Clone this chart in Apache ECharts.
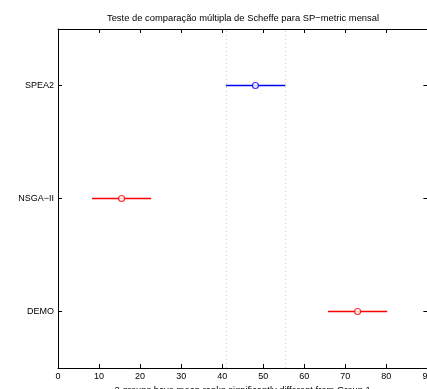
<!DOCTYPE html>
<html>
<head>
<meta charset="utf-8">
<script src="https://cdn.jsdelivr.net/npm/echarts@6/dist/echarts.min.js"></script>
<style>
  html, body { margin: 0; padding: 0; background: #fff; overflow: hidden; }
  #chart { width: 427px; height: 389px; }
</style>
</head>
<body>
<div id="chart"></div>
<script>
// Groups listed bottom-to-top
const groups = ['DEMO', 'NSGA\u2212II', 'SPEA2'];
// Estimated mean ranks and Scheffe comparison intervals
const meanRanks = [73.0, 15.5, 48.1];
const lowerBounds = [65.8, 8.3, 40.9];
const upperBounds = [80.2, 22.7, 55.4];
// Index of the reference group (drawn in blue)
const selectedGroup = 2;
const xTicks = [0, 10, 20, 30, 40, 50, 60, 70, 80, 90];
const xMax = 90;

const FONT = 'Liberation Sans, Arial, Helvetica, sans-serif';
const BLUE = '#0000ff';
const RED = '#ff0000';
const TICK_LEN = 4;
const groupColors = groups.map((g, i) => (i === selectedGroup ? BLUE : RED));

const chart = echarts.init(document.getElementById('chart'), null, { renderer: 'canvas' });

const intervalData = groups.map((g, i) => [lowerBounds[i], i, upperBounds[i]]);
const meanData = groups.map((g, i) => ({
  value: [meanRanks[i], i],
  itemStyle: { borderColor: groupColors[i], color: '#fff' }
}));

const makeLine = () => ({ show: true, lineStyle: { color: '#000', width: 1 } });
const makeTicks = () => ({ show: true, inside: true, length: TICK_LEN, lineStyle: { color: '#000', width: 1 } });

chart.setOption({
  animation: false,
  title: {
    text: 'Teste de compara\u00e7\u00e3o m\u00faltipla de Scheffe para SP\u2212metric mensal',
    left: 238, top: 9, textAlign: 'center',
    textStyle: { fontFamily: FONT, fontSize: 9.4, fontWeight: 'normal', color: '#000' }
  },
  grid: { left: 58, top: 29, width: 369.4, height: 339, containLabel: false, outerBoundsMode: 'none' },
  xAxis: [
    {
      type: 'value', min: 0, max: xMax, interval: 10, position: 'bottom',
      axisLine: makeLine(), axisTick: makeTicks(),
      axisLabel: { fontFamily: FONT, fontSize: 9, color: '#000', margin: 4,
        formatter: v => (xTicks.includes(v) ? String(v) : '') },
      splitLine: { show: false },
      name: '2 groups have mean ranks significantly different from Group 1',
      nameLocation: 'middle', nameGap: 16,
      nameTextStyle: { fontFamily: FONT, fontSize: 9.4, color: '#000' }
    },
    {
      type: 'value', min: 0, max: xMax, interval: 10, position: 'top',
      axisLine: makeLine(), axisTick: makeTicks(),
      axisLabel: { show: false }, splitLine: { show: false }
    }
  ],
  yAxis: [
    {
      type: 'category', data: groups, position: 'left', boundaryGap: true,
      axisLine: makeLine(), axisTick: Object.assign(makeTicks(), { alignWithLabel: true }),
      axisLabel: { fontFamily: FONT, fontSize: 9, color: '#000', margin: 4 },
      splitLine: { show: false }
    }
  ],
  series: [
    {
      // Comparison intervals
      type: 'custom',
      xAxisIndex: 0, yAxisIndex: 0,
      data: intervalData,
      renderItem: (params, api) => {
        const i = params.dataIndex;
        const a = api.coord([lowerBounds[i], i]);
        const b = api.coord([upperBounds[i], i]);
        // snap to the pixel grid so the stroke stays crisp
        const y = Math.floor(a[1]) + 0.5;
        return {
          type: 'line',
          shape: { x1: a[0], y1: y, x2: b[0], y2: y },
          style: { stroke: groupColors[i], lineWidth: 1.4 }
        };
      },
      markLine: {
        silent: true, symbol: 'none', label: { show: false },
        lineStyle: { type: [1, 3], color: '#c8c8c8', width: 1 },
        data: [{ xAxis: lowerBounds[selectedGroup] }, { xAxis: upperBounds[selectedGroup] }]
      },
      z: 2
    },
    {
      // Tick marks on the right-hand frame edge
      type: 'custom',
      xAxisIndex: 0, yAxisIndex: 0,
      silent: true,
      data: groups.map((g, i) => [xMax, i]),
      renderItem: (params, api) => {
        const p = api.coord([xMax, params.dataIndex]);
        const y = Math.floor(p[1]) + 0.5;
        return {
          type: 'line',
          shape: { x1: p[0] - TICK_LEN, y1: y, x2: p[0], y2: y },
          style: { stroke: '#000', lineWidth: 1 }
        };
      },
      z: 1
    },
    {
      // Mean ranks
      type: 'scatter',
      xAxisIndex: 0, yAxisIndex: 0,
      symbol: 'circle', symbolSize: 6,
      itemStyle: { borderWidth: 1.2 },
      data: meanData,
      z: 3
    }
  ]
});
</script>
</body>
</html>
